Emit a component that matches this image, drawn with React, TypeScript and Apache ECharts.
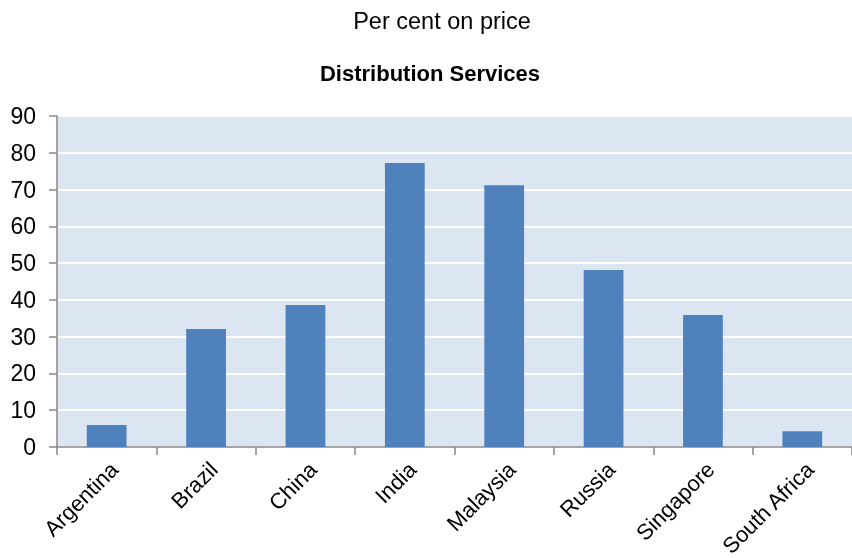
import React, { useEffect, useRef } from "react";
import * as echarts from "echarts";

const categories = ["Argentina", "Brazil", "China", "India", "Malaysia", "Russia", "Singapore", "South Africa"];
const values = [6.0, 32.1, 38.6, 77.2, 71.2, 48.1, 35.9, 4.3];
const yTicks = { min: 0, max: 90, interval: 10 };

export default function App() {
  const ref = useRef<HTMLDivElement>(null);
  useEffect(() => {
    const chart = echarts.init(ref.current!, null, { renderer: "svg" });
    chart.setOption({
      animation: false,
      title: [
        {
          text: "Per cent on price",
          left: 437,
          top: 4,
          textAlign: "center",
          textStyle: { fontFamily: "Liberation Sans", fontSize: 23.5, fontWeight: "normal", color: "#000" },
        },
        {
          text: "Distribution Services",
          left: 425,
          top: 57,
          textAlign: "center",
          textStyle: { fontFamily: "Liberation Sans", fontSize: 22, fontWeight: "bold", color: "#000" },
        },
      ],
      grid: {
        left: 57,
        right: 0,
        top: 116,
        bottom: 111,
        containLabel: false,
        outerBoundsMode: "none",
        show: true,
        backgroundColor: "#DCE6F2",
        borderWidth: 0,
      },
      xAxis: {
        type: "category",
        data: categories,
        axisLine: { lineStyle: { color: "#888", width: 1.5 } },
        axisTick: { show: true, alignWithLabel: false, length: 8, lineStyle: { color: "#888", width: 1.5 } },
        axisLabel: {
          rotate: 45,
          interval: 0,
          margin: 11,
          verticalAlign: "top",
          fontFamily: "Liberation Sans",
          fontSize: 22,
          color: "#000",
        },
      },
      yAxis: {
        type: "value",
        min: yTicks.min,
        max: yTicks.max,
        interval: yTicks.interval,
        axisLine: { show: true, lineStyle: { color: "#888", width: 1.5 } },
        axisTick: { show: true, length: 8, lineStyle: { color: "#888", width: 1.5 } },
        splitLine: { lineStyle: { color: "#ffffff", width: 2 } },
        axisLabel: { fontFamily: "Liberation Sans", fontSize: 23, color: "#000", margin: 21 },
      },
      series: [
        {
          type: "bar",
          data: values,
          barWidth: "40%",
          itemStyle: { color: "#4F81BD" },
        },
      ],
    });
    return () => chart.dispose();
  }, []);
  return <div ref={ref} style={{ position: "fixed", left: 0, top: 0, width: 852, height: 558 }} />;
}
